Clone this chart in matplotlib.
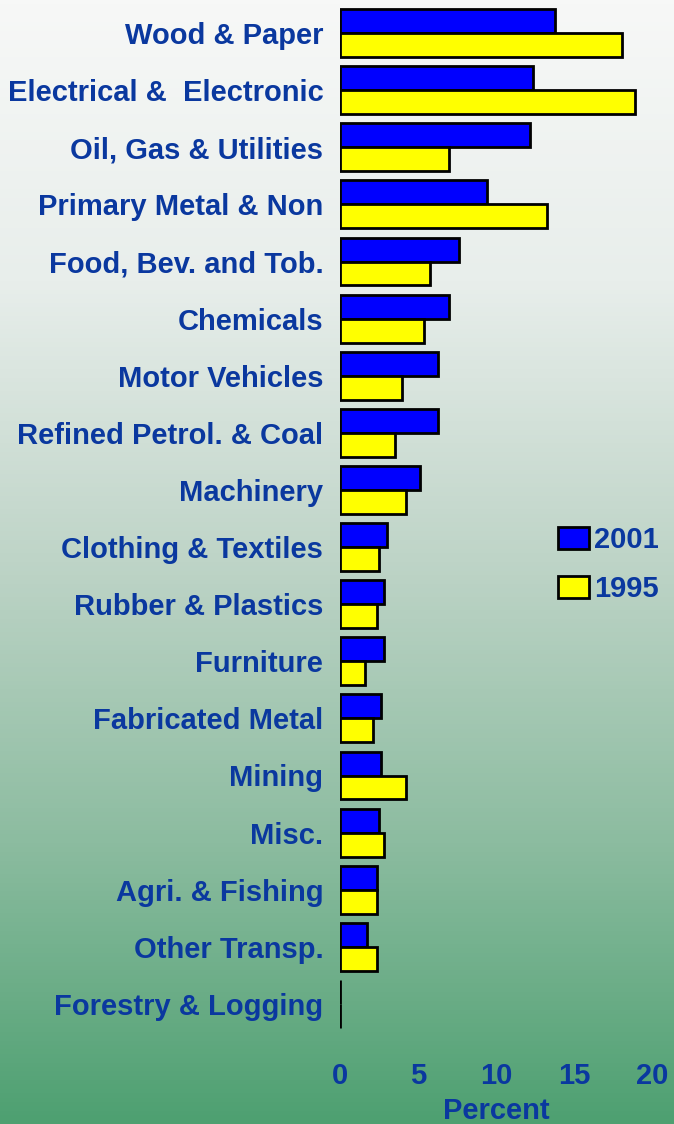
import numpy as np
import matplotlib
matplotlib.use("Agg")
import matplotlib.pyplot as plt
from matplotlib.colors import LinearSegmentedColormap

categories = ["Wood & Paper", "Electrical &  Electronic", "Oil, Gas & Utilities",
              "Primary Metal & Non", "Food, Bev. and Tob.", "Chemicals",
              "Motor Vehicles", "Refined Petrol. & Coal", "Machinery",
              "Clothing & Textiles", "Rubber & Plastics", "Furniture",
              "Fabricated Metal", "Mining", "Misc.", "Agri. & Fishing",
              "Other Transp.", "Forestry & Logging"]
v2001 = [13.8, 12.4, 12.2, 9.4, 7.6, 7.0, 6.3, 6.3, 5.1, 3.0, 2.8, 2.8, 2.6, 2.6, 2.5, 2.4, 1.7, 0.0]
v1995 = [18.1, 18.9, 7.0, 13.3, 5.8, 5.4, 4.0, 3.5, 4.2, 2.5, 2.4, 1.6, 2.1, 4.2, 2.8, 2.4, 2.4, 0.0]
series_names = ["2001", "1995"]
xticks = [0, 5, 10, 15, 20]

W, H = 674, 1124
fig = plt.figure(figsize=(W / 100, H / 100), dpi=100)

# gradient background
bg = fig.add_axes([0, 0, 1, 1])
cmap = LinearSegmentedColormap.from_list(
    "bg", [(0.0, (247/255, 248/255, 247/255)),
           (0.25, (232/255, 238/255, 235/255)),
           (0.5, (190/255, 212/255, 199/255)),
           (0.75, (140/255, 188/255, 160/255)),
           (1.0, (78/255, 160/255, 113/255))])
grad = np.linspace(0, 1, 256).reshape(-1, 1)
bg.imshow(grad, aspect="auto", cmap=cmap, extent=[0, 1, 1, 0])
bg.set_axis_off()

txt = "#0A389F"
font = dict(family="Liberation Sans", weight="bold", size=21, color=txt)

left, right = 340 / W, 652 / W
top_px, bot_px = 4.5, 1032.5
ax = fig.add_axes([left, 1 - bot_px / H, right - left, (bot_px - top_px) / H])
ax.patch.set_alpha(0)

n = len(categories)
y = np.arange(n)
h = 0.42
ax.barh(y - h / 2, v2001, height=h, color="#0000FF", edgecolor="black", linewidth=2.0, label=series_names[0])
ax.barh(y + h / 2, v1995, height=h, color="#FFFF00", edgecolor="black", linewidth=2.0, label=series_names[1])

ax.set_xlim(0, 20)
ax.set_ylim(n - 0.5, -0.5)
ax.set_yticks(y)
ax.set_yticklabels(categories, **font)
ax.set_xticks(xticks)
ax.set_xticklabels([str(t) for t in xticks], **font)
ax.tick_params(axis="both", length=0)
ax.tick_params(axis="y", pad=12)
ax.tick_params(axis="x", pad=21)
for s in ax.spines.values():
    s.set_visible(False)
ax.set_xlabel("Percent", labelpad=5.5, **font)

leg = ax.legend(loc="upper left", bbox_to_anchor=(0.615, 0.518), frameon=False,
                prop=dict(family="Liberation Sans", weight="bold", size=21),
                handlelength=1.05, handleheight=0.75, handletextpad=0.18, labelspacing=0.72)
for t in leg.get_texts():
    t.set_color(txt)

fig.savefig("out.png", dpi=100)
